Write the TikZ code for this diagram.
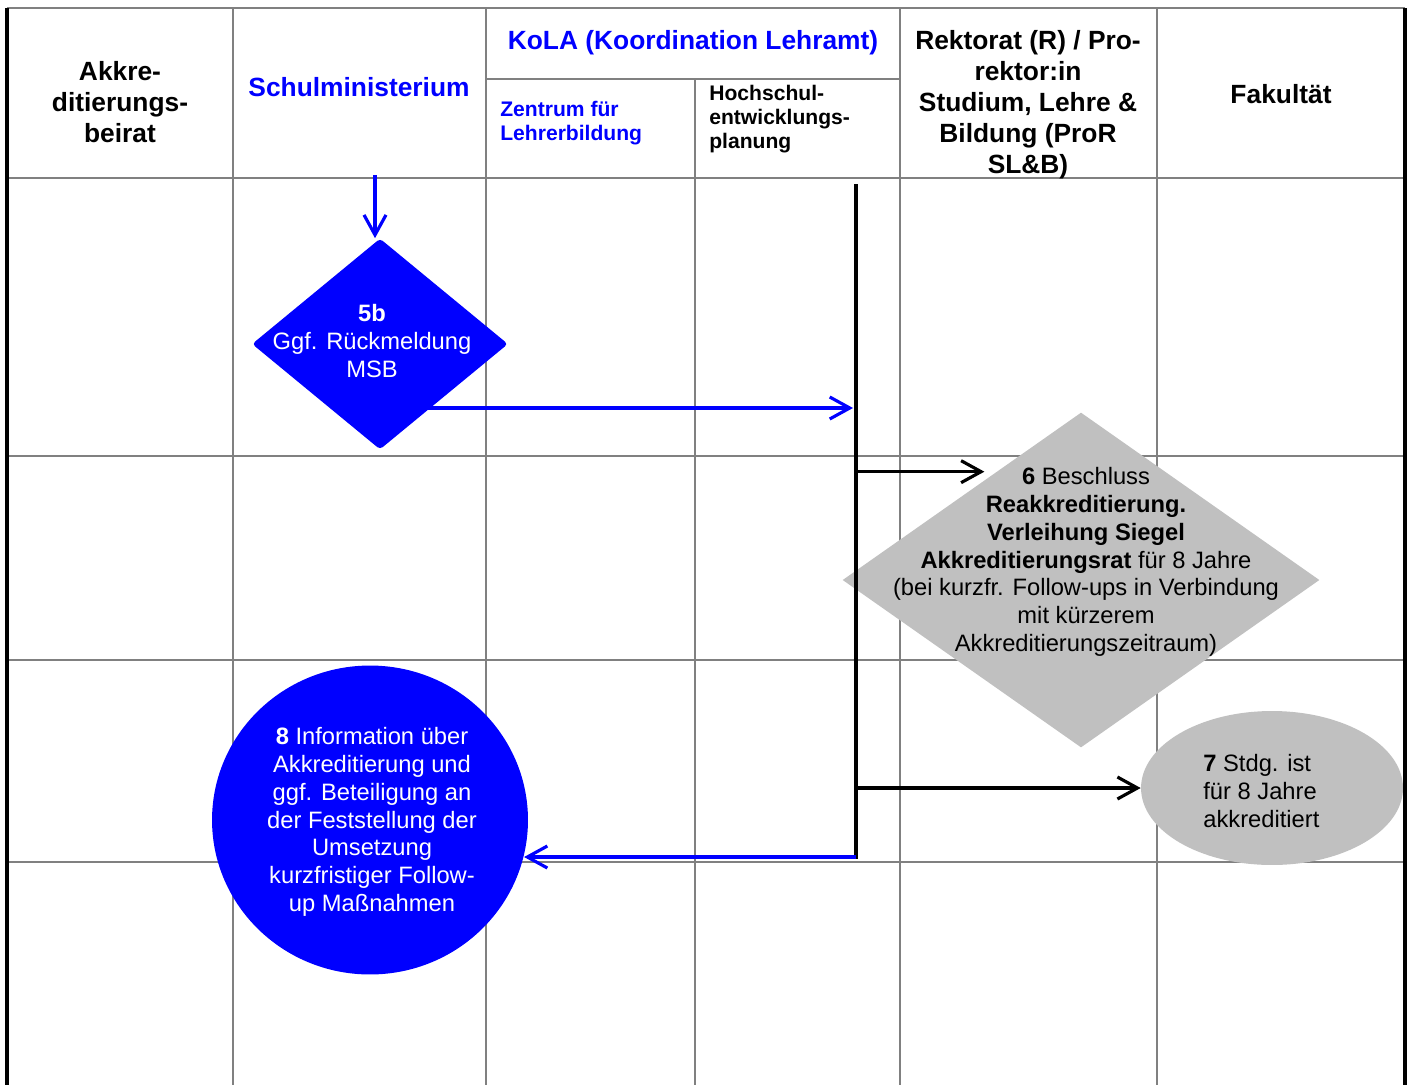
\documentclass[tikz,border=0pt]{standalone}
\usepackage{fontspec}
\setmainfont{Liberation Sans}
\usetikzlibrary{shapes.geometric,arrows.meta}
\definecolor{msblue}{RGB}{0,0,255}
\definecolor{boxgray}{RGB}{192,192,192}
\definecolor{gridgray}{RGB}{128,128,128}

\begin{document}
\begin{tikzpicture}[x=0.02cm, y=-0.02cm,
    grid/.style={draw=gridgray, line width=1.4pt},
    frame/.style={draw=black, line width=2pt},
    headtext/.style={font=\fontsize{15}{17.6}\selectfont\bfseries, align=center, inner sep=0pt},
    subtext/.style={font=\fontsize{12}{13.6}\selectfont\bfseries, align=left, inner sep=0pt, anchor=west},
    bodytext/.style={font=\fontsize{13.5}{15.8}\selectfont, align=center, inner sep=0pt},
    bluearrow/.style={draw=msblue, line width=1.8pt, -{Straight Barb[length=4mm,width=4.4mm]}},
    blackarrow/.style={draw=black, line width=1.8pt, -{Straight Barb[length=4mm,width=4.4mm]}}
]
    \useasboundingbox (0,0) rectangle (1412,1085);

    % swimlane grid
    \draw[grid] (7,8) -- (1405,8);
    \foreach \y in {178,456,660,862}
        \draw[grid] (7,\y) -- (1405,\y);
    \foreach \x in {233,486,900,1157}
        \draw[grid] (\x,8) -- (\x,1085);
    \draw[grid] (486,79) -- (900,79);
    \draw[grid] (695,79) -- (695,1085);
    \draw[frame] (7,8) -- (7,1085);
    \draw[frame] (1405,8) -- (1405,1085);

    % lane headers
    \node (akkbeirat) [headtext] at (120,102) {Akkre-\\ditierungs-\\beirat};
    \node (msb) [headtext, text=msblue] at (359,87) {Schulministerium};
    \node (kola) [headtext, text=msblue] at (693,43) {KoLA (Koordination Lehramt)};
    \node (zlb) [subtext, text=msblue] at (500,123) {Zentrum für\\Lehrerbildung};
    \node (hep) [subtext] at (709,119) {Hochschul-\\entwicklungs-\\planung};
    \node (rektorat) [headtext] at (1028,105) {Rektorat (R) / Pro-\\rektor:in\\Studium, Lehre \&\\Bildung (ProR\\SL\&B)};
    \node (fakultaet) [headtext] at (1281,94) {Fakultät};

    % process shapes
    \node (rueck) [diamond, fill=msblue, minimum width=5.12cm, minimum height=4.22cm, inner sep=0pt, rounded corners=2pt] at (380,344) {};
    \node (beschluss) [diamond, fill=boxgray, minimum width=9.54cm, minimum height=6.7cm, inner sep=0pt] at (1081,580) {};
    \node (info) [ellipse, fill=msblue, minimum width=6.32cm, minimum height=6.18cm, inner sep=0pt] at (370,820) {};
    \node (akkr) [ellipse, fill=boxgray, minimum width=5.24cm, minimum height=3.08cm, inner sep=0pt] at (1272,788) {};

    % bus line
    \coordinate (bustop) at (856,184);
    \coordinate (busbot) at (856,857);
    \draw[line width=2.4pt] (bustop) -- ([yshift=-1pt]busbot);

    % connectors
    \coordinate (msbin) at (375,175);
    \coordinate (busin) at (853,408);
    \draw[bluearrow] (msbin) -- (msbin |- rueck.north);
    \draw[bluearrow] (rueck.center |- busin) -- (busin);
    \draw[blackarrow, shorten >=2.4mm] (beschluss.128 -| bustop) -- (beschluss.128);
    \draw[blackarrow] (akkr.west -| bustop) -- (akkr.west);
    \draw[bluearrow] (busbot) -- (info.-13.7 |- busbot);

    % shape texts
    \node (ruecktext) [bodytext, text=white] at (372,341) {\textbf{5b}\\Ggf. Rückmeldung\\MSB};
    \node (beschlusstext) [bodytext] at (1086,562) {\textbf{6} Beschluss\\\textbf{Reakkreditierung.}\\\textbf{Verleihung Siegel}\\\textbf{Akkreditierungsrat} für 8 Jahre\\(bei kurzfr. Follow-ups in Verbindung\\mit kürzerem\\Akkreditierungszeitraum)};
    \node (infotext) [bodytext, text=white] at (372,822) {\textbf{8} Information über\\Akkreditierung und\\ggf. Beteiligung an\\der Feststellung der\\Umsetzung\\kurzfristiger Follow-\\up Maßnahmen};
    \node (akkrtext) [bodytext, align=left, anchor=west] at (1203,791) {\textbf{7} Stdg. ist\\für 8 Jahre\\akkreditiert};
\end{tikzpicture}
\end{document}
